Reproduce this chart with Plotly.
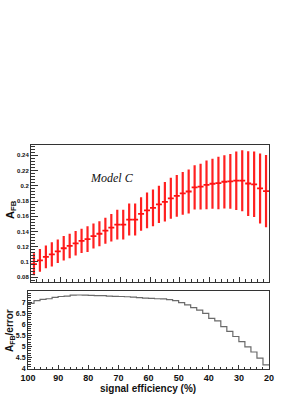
import plotly.graph_objects as go

# ---- data ----
eff = [99, 97, 95, 93, 91, 89, 87, 85, 83, 81,
       79, 77, 75, 73, 71, 69, 67, 65, 63, 61,
       59, 57, 55, 53, 51, 49, 47, 45, 43, 41,
       39, 37, 35, 33, 31, 29, 27, 25, 23, 21]

afb = [0.097, 0.102, 0.1067, 0.110, 0.114, 0.118, 0.121, 0.1245, 0.1276, 0.130,
       0.134, 0.137, 0.141, 0.145, 0.149, 0.149, 0.1556, 0.1556, 0.163, 0.1676,
       0.171, 0.1756, 0.179, 0.1836, 0.1867, 0.190, 0.1925, 0.198, 0.199, 0.2013,
       0.2027, 0.2036, 0.2053, 0.2058, 0.2067, 0.2067, 0.203, 0.202, 0.1965, 0.193]

afb_err = [0.0145, 0.015, 0.015, 0.016, 0.0155, 0.016, 0.016, 0.016, 0.016, 0.017,
           0.0165, 0.0165, 0.017, 0.018, 0.0195, 0.0195, 0.021, 0.021, 0.022, 0.0235,
           0.024, 0.0245, 0.026, 0.027, 0.0275, 0.028, 0.029, 0.029, 0.030, 0.032,
           0.033, 0.0345, 0.035, 0.036, 0.0385, 0.040, 0.0425, 0.043, 0.046, 0.0475]

eff_edges = [100, 98, 96, 94, 92, 90, 88, 86, 84, 82,
             80, 78, 76, 74, 72, 70, 68, 66, 64, 62,
             60, 58, 56, 54, 52, 50, 48, 46, 44, 42,
             40, 38, 36, 34, 32, 30, 28, 26, 24, 22, 20]

ratio = [6.95, 7.07, 7.13, 7.16, 7.22, 7.26, 7.28, 7.32, 7.33, 7.32,
         7.31, 7.30, 7.30, 7.28, 7.27, 7.26, 7.25, 7.23, 7.21, 7.19,
         7.18, 7.16, 7.15, 7.12, 7.07, 6.98, 6.88, 6.76, 6.64, 6.50,
         6.27, 6.16, 5.90, 5.68, 5.45, 5.22, 4.98, 4.75, 4.47, 4.17]

x_ticks = [100, 90, 80, 70, 60, 50, 40, 30, 20]
top_y_ticks = [0.08, 0.10, 0.12, 0.14, 0.16, 0.18, 0.20, 0.22, 0.24]
top_y_text = ["0.08", "0.1", "0.12", "0.14", "0.16", "0.18", "0.2", "0.22", "0.24"]
bot_y_ticks = [4, 4.5, 5, 5.5, 6, 6.5, 7]
bot_y_text = ["4", "4.5", "5", "5.5", "6", "6.5", "7"]

W, H = 306, 396
FONT = "Liberation Sans"
FRAME = "#333333"

fig = go.Figure()

fig.add_trace(go.Scatter(
    x=eff, y=afb, mode="markers",
    marker=dict(size=1, color="#ff1a1a"),
    error_y=dict(type="data", array=afb_err, visible=True,
                 color="#ff2020", thickness=2.2, width=0),
    error_x=dict(type="constant", value=1, visible=True,
                 color="#ff1010", thickness=1.8, width=0),
    xaxis="x", yaxis="y", showlegend=False, hoverinfo="skip"))

fig.add_trace(go.Scatter(
    x=eff_edges, y=ratio + [ratio[-1]], mode="lines",
    line=dict(color="#6a6a6a", width=1.2, shape="hv"),
    xaxis="x2", yaxis="y2", showlegend=False, hoverinfo="skip"))

def px_x(p):
    return p / W

def px_y(p):
    return 1 - p / H

axis_common = dict(showline=True, linecolor=FRAME, linewidth=1, mirror=True,
                   ticks="inside", tickcolor=FRAME, showgrid=False, zeroline=False,
                   automargin=False)

fig.update_layout(
    template="none",
    width=W, height=H,
    margin=dict(l=0, r=0, t=0, b=0, pad=0),
    paper_bgcolor="white", plot_bgcolor="white",
    xaxis=dict(domain=[px_x(31), px_x(269)], range=[100, 20], anchor="y",
               tickvals=x_ticks, ticklen=5, showticklabels=False,
               minor=dict(ticks="inside", ticklen=2.5, dtick=2, tick0=20,
                          tickcolor=FRAME, showgrid=False),
               **axis_common),
    yaxis=dict(domain=[px_y(281.5), px_y(145)], range=[0.0743, 0.2536], anchor="x",
               tickvals=top_y_ticks, ticktext=top_y_text, ticklen=7,
               tickfont=dict(family=FONT, size=6, color="#111", weight="bold"),
               minor=dict(ticks="inside", ticklen=3.5, dtick=0.004, tick0=0.08,
                          tickcolor=FRAME, showgrid=False),
               **axis_common),
    xaxis2=dict(domain=[px_x(28), px_x(269)], range=[100, 20], anchor="y2",
                tickvals=x_ticks, ticklen=4,
                tickfont=dict(family=FONT, size=9, color="#111", weight="bold"),
                minor=dict(ticks="inside", ticklen=2, dtick=2, tick0=20,
                           tickcolor=FRAME, showgrid=False),
                **axis_common),
    yaxis2=dict(domain=[px_y(369), px_y(291)], range=[3.98, 7.51], anchor="x2",
                tickvals=bot_y_ticks, ticktext=bot_y_text, ticklen=4,
                tickfont=dict(family=FONT, size=7, color="#111", weight="bold"),
                minor=dict(ticks="inside", ticklen=2.5, dtick=0.1, tick0=4,
                           tickcolor=FRAME, showgrid=False),
                **axis_common),
    annotations=[
        dict(text="<i>Model C</i>", x=72.9, y=0.210, xref="x", yref="y",
             xanchor="center", yanchor="middle",
             showarrow=False, font=dict(family="Liberation Serif", size=12, color="#111")),
        dict(text="<b>A<sub>FB</sub></b>", x=px_x(11), y=px_y(210),
             xref="paper", yref="paper", textangle=-90, showarrow=False,
             xanchor="center", yanchor="middle",
             font=dict(family=FONT, size=11, color="#111")),
        dict(text="<b>A<sub>FB</sub>/error</b>", x=px_x(10), y=px_y(331),
             xref="paper", yref="paper", textangle=-90, showarrow=False,
             xanchor="center", yanchor="middle",
             font=dict(family=FONT, size=10, color="#111")),
        dict(text="<b>signal efficiency (%)</b>", x=px_x(148), y=px_y(388),
             xref="paper", yref="paper", showarrow=False,
             xanchor="center", yanchor="middle",
             font=dict(family=FONT, size=10, color="#111")),
    ],
)

fig.write_html("out.html", config={"displayModeBar": False},
               post_script="document.body.style.margin='0';document.body.style.overflow='hidden';")
